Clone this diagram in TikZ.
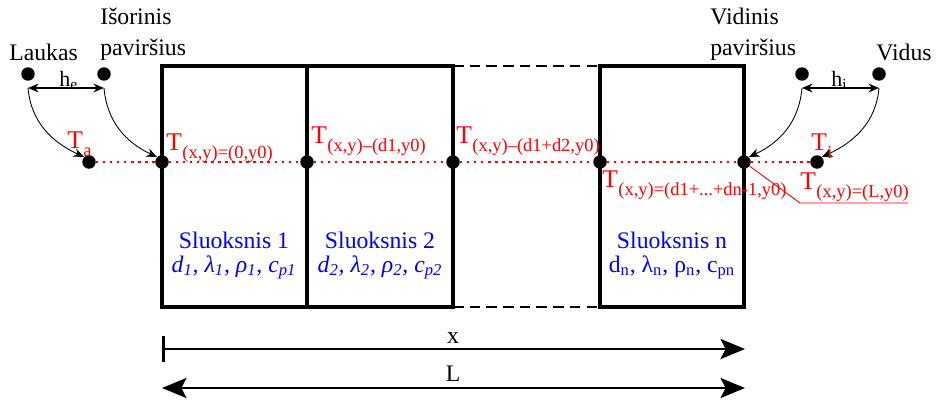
\documentclass[tikz,border=0pt]{standalone}
\usepackage{fontspec}
\setmainfont{Liberation Serif}
\usepackage{xcolor}
\usepackage{tikz}
\usetikzlibrary{arrows.meta,positioning,calc}

\newcommand{\Tsub}[1]{T\kern0.3pt\raisebox{-4.8pt}{\fontsize{10.5}{12}\selectfont #1}}

\begin{document}
\begin{tikzpicture}[
    x=0.02cm, y=-0.02cm,
    dotn/.style={circle, fill=black, inner sep=0pt, minimum size=0.27cm},
    wall/.style={line width=2.2pt},
    gap/.style={line width=0.9pt, dash pattern=on 6pt off 3.5pt},
    probe/.style={red, line width=1.5pt, dash pattern=on 1.3pt off 2.7pt},
    flow/.style={-{Stealth[length=6pt, width=5pt]}, line width=0.5pt},
    hcoef/.style={{Stealth[length=6pt, width=5pt]}-{Stealth[length=6pt, width=5pt]}, line width=0.8pt},
    lbl/.style={inner sep=0pt, align=left, font=\fontsize{13.5}{17.6}\selectfont},
    hlab/.style={inner sep=0pt, font=\fontsize{12.5}{14}\selectfont},
    tlab/.style={inner sep=0pt, text=red, font=\fontsize{14.5}{16}\selectfont},
    lay/.style={inner sep=0pt, text=blue, font=\fontsize{13.5}{16}\selectfont},
    big/.style={{Stealth[length=14pt, width=11.5pt, inset=3pt]}-{Stealth[length=14pt, width=11.5pt, inset=3pt]}, line width=0.8pt}
]
    \useasboundingbox (0,0) rectangle (940,399);

    \draw [wall] (162,66) rectangle (307,307);
    \draw [wall] (307,66) rectangle (453,307);
    \draw [wall] (600,66) rectangle (744,307);
    \draw [gap] (453,66) -- (600,66);
    \draw [gap] (453,307) -- (600,307);

    \node [dotn] (lauk) at (28,74) {};
    \node [dotn] (isor) at (104,74) {};
    \node [dotn] (vidp) at (802,74) {};
    \node [dotn] (vid) at (879,74) {};
    \node [dotn] (ta) at (89,162) {};
    \node [dotn] (s1) at (162,162) {};
    \node [dotn] (s2) at (307,162) {};
    \node [dotn] (s3) at (453,162) {};
    \node [dotn] (s4) at (600,162) {};
    \node [dotn] (s5) at (744,162) {};
    \node [dotn] (ti) at (817,162) {};

    \draw [probe] (ta) -- (s1) -- (s2) -- (s3) -- (s4) -- (s5) -- (ti);

    \coordinate (he1) at ([yshift=-0.28cm]lauk.center);
    \coordinate (he2) at ([yshift=-0.28cm]isor.center);
    \coordinate (hi1) at ([yshift=-0.28cm]vidp.center);
    \coordinate (hi2) at ([yshift=-0.28cm]vid.center);
    \draw [hcoef] (he1) -- (he2);
    \draw [hcoef] (hi1) -- (hi2);
    \draw [flow] (he1) to[out=-85, in=155] (ta.north west);
    \draw [flow] (he2) to[out=-85, in=155] (s1.north west);
    \draw [flow] (hi1) to[out=-95, in=25] (s5.north east);
    \draw [flow] (hi2) to[out=-95, in=25] (ti.north east);

    \node [lbl, anchor=base west] (laukt) at (9,60) {Laukas};
    \node [lbl, anchor=north west] (isort) at (100,8) {Išorinis\\paviršius};
    \node [lbl, anchor=north west] (vidpt) at (710,8) {Vidinis\\paviršius};
    \node [lbl, anchor=base west] (vidt) at (876,60) {Vidus};
    \node [hlab, anchor=base west] (het) at (59,86) {h\textsubscript{e}};
    \node [hlab, anchor=base west] (hit) at (831,86) {h\textsubscript{i}};

    \node [tlab, anchor=base west] (tat) at (67,148) {\Tsub{a}};
    \node [tlab, anchor=base west] (t1) at (166,150) {\Tsub{(x,y)=(0,y0)}};
    \node [tlab, anchor=base west] (t2) at (311,143) {\Tsub{(x,y)–(d1,y0)}};
    \node [tlab, anchor=base west] (t3) at (456,143) {\Tsub{(x,y)–(d1+d2,y0)}};
    \node [tlab, anchor=base west] (t4) at (602,187) {\Tsub{(x,y)=(d1+...+dn-1,y0)}};
    \node [tlab, anchor=base west] (tit) at (811,150) {\Tsub{i}};
    \node [tlab, anchor=base west] (t5) at (800,189) {\Tsub{(x,y)=(L,y0)}};
    \coordinate (lk1) at (800,203);
    \coordinate (lk2) at (908,203);
    \draw [red, line width=0.5pt] (s5) -- (lk1) -- (lk2);

    \node [lay, anchor=base] (n1) at (234,248) {Sluoksnis 1};
    \node [lay, anchor=base] (p1) at (234,272) {\itshape d\textsubscript{1}, λ\textsubscript{1}, ρ\textsubscript{1}, c\textsubscript{p1}};
    \node [lay, anchor=base] (n2) at (380,248) {Sluoksnis 2};
    \node [lay, anchor=base] (p2) at (380,272) {\itshape d\textsubscript{2}, λ\textsubscript{2}, ρ\textsubscript{2}, c\textsubscript{p2}};
    \node [lay, anchor=base] (nn) at (672,248) {Sluoksnis n};
    \node [lay, anchor=base] (pn) at (672,272) {d\textsubscript{n}, λ\textsubscript{n}, ρ\textsubscript{n}, c\textsubscript{pn}};

    \coordinate (x0) at (162,349);
    \coordinate (x1) at (745,349);
    \coordinate (l0) at (162,388);
    \coordinate (l1) at (745,388);
    \draw [{Bar[width=15pt, line width=1.9pt]}-{Stealth[length=14pt, width=11.5pt, inset=3pt]}, line width=1.2pt] (x0) -- (x1);
    \draw [big] (l0) -- (l1);
    \node [lbl, anchor=base] (xt) at (453,343) {x};
    \node [lbl, anchor=base] (lt) at (453,381) {L};
\end{tikzpicture}
\end{document}
